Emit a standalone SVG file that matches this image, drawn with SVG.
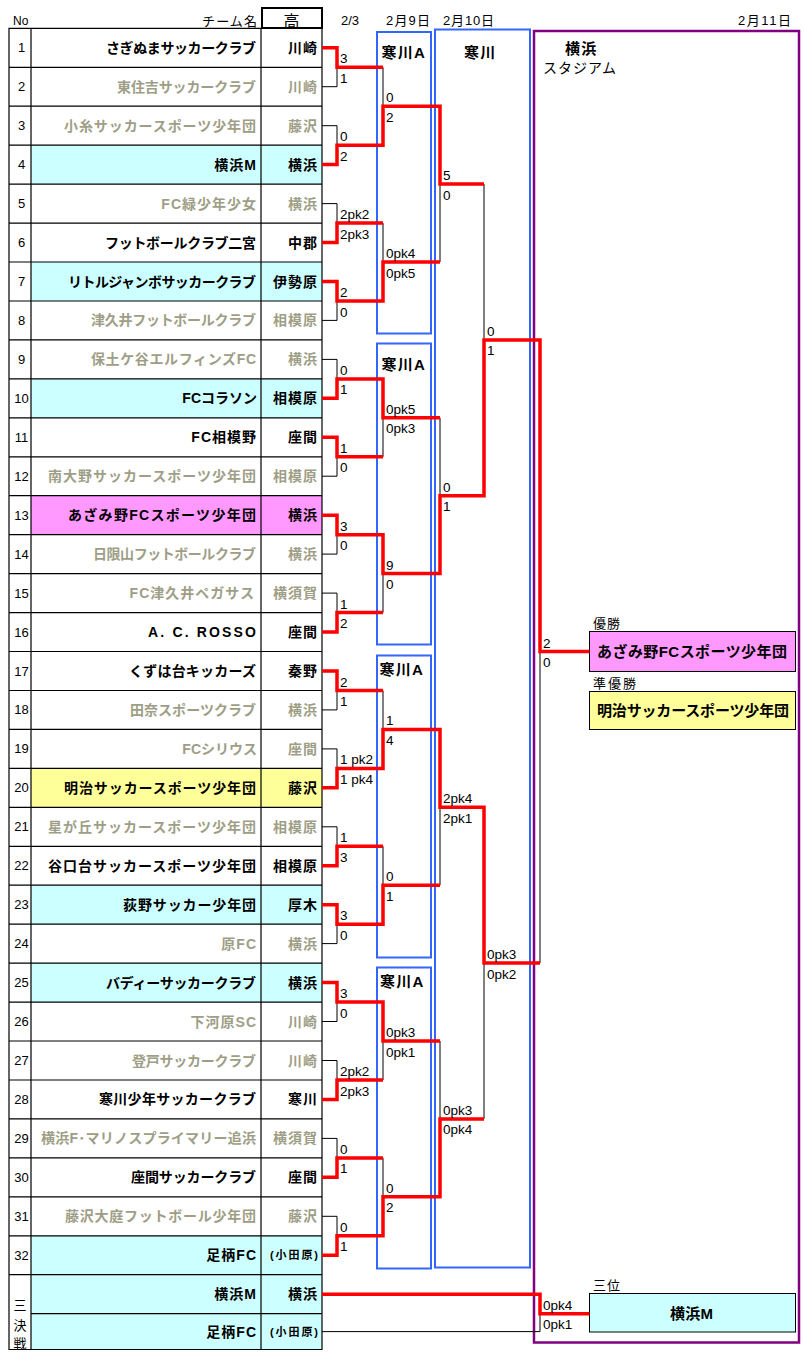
<svg xmlns="http://www.w3.org/2000/svg" width="804" height="1355" viewBox="0 0 804 1355">
<style>
text{font-family:"Liberation Sans","Noto Sans CJK JP",sans-serif;fill:#000}
.no{font-size:13px;text-anchor:middle}
.nm{font-size:14px;font-weight:bold;text-anchor:end}
.ls{letter-spacing:1px}
.rg{font-size:14px;font-weight:bold;text-anchor:end;letter-spacing:1px}
.rs{font-size:11px;font-weight:bold;text-anchor:end}
.g{fill:#9E9E86}
.sc{font-size:13.5px}
.hd{font-size:13px}
.vb{font-size:15px;font-weight:bold;letter-spacing:1.2px}
.bx{font-size:15px;font-weight:bold}
.grid{stroke:#000;stroke-width:1.2;fill:none}
.bk{stroke:#000;stroke-width:1;fill:none}
.rd{stroke:#FF0000;stroke-width:3.5;fill:none;stroke-linejoin:miter}
.blue{stroke:#3366FF;stroke-width:2;fill:none}
.purple{stroke:#800080;stroke-width:2.5;fill:none}
.cy{fill:#CCFFFF}
</style>
<rect width="804" height="1355" fill="#fff"/>

<g id="header">
<text x="13" y="25" style="font-size:12px">No</text>
<text x="202" y="26" class="hd" textLength="55" lengthAdjust="spacing">チーム名</text>
<rect x="262" y="8" width="60" height="20" fill="none" stroke="#000" stroke-width="2"/>
<text x="291.5" y="26.5" style="font-size:16px;text-anchor:middle">高</text>
<text x="341" y="25" class="hd">2/3</text>
<text x="386" y="25" class="hd" textLength="44" lengthAdjust="spacing">2月9日</text>
<text x="443" y="25" class="hd" textLength="51" lengthAdjust="spacing">2月10日</text>
<text x="738" y="25" class="hd" textLength="53" lengthAdjust="spacing">2月11日</text>
</g>

<g id="venues">
<g id="venue-samukawaA-1"><rect x="377" y="32" width="54" height="301.5" class="blue"/><text x="381.5" y="58.3" class="vb">寒川A</text></g>
<g id="venue-samukawaA-2"><rect x="377" y="343.5" width="54" height="301" class="blue"/><text x="381.5" y="370" class="vb">寒川A</text></g>
<g id="venue-samukawaA-3"><rect x="377" y="655.5" width="54" height="302" class="blue"/><text x="379.5" y="675" class="vb">寒川A</text></g>
<g id="venue-samukawaA-4"><rect x="377" y="967.5" width="54" height="301" class="blue"/><text x="380" y="986.7" class="vb">寒川A</text></g>
<g id="venue-samukawa"><rect x="435" y="29.5" width="95" height="1238" class="blue"/><text x="464" y="58.3" class="vb">寒川</text></g>
<g id="venue-yokohama"><rect x="534" y="31" width="265" height="1311.5" class="purple"/>
<text x="565" y="54" class="vb">横浜</text>
<text x="543" y="72.5" style="font-size:14px" textLength="73" lengthAdjust="spacing">スタジアム</text></g>
</g>

<g id="table">
<rect x="31" y="145.2" width="291" height="38.9" class="cy"/>
<rect x="31" y="262.0" width="291" height="39.0" class="cy"/>
<rect x="31" y="378.9" width="291" height="38.9" class="cy"/>
<rect x="31" y="495.7" width="291" height="39.0" fill="#FF99FF"/>
<rect x="31" y="768.4" width="291" height="38.9" fill="#FFFF99"/>
<rect x="31" y="885.2" width="291" height="39.0" class="cy"/>
<rect x="31" y="963.1" width="291" height="39.0" class="cy"/>
<rect x="31" y="1235.8" width="291" height="113.7" class="cy"/>
<path class="grid" d="M9 28.3H322V1349.5H9Z M31 28.3V1349.5 M261 28.3V1349.5
M9 67.3H322 M9 106.2H322 M9 145.2H322 M9 184.1H322 M9 223.1H322 M9 262.0H322 M9 301.0H322 M9 339.9H322
M9 378.9H322 M9 417.8H322 M9 456.8H322 M9 495.7H322 M9 534.7H322 M9 573.6H322 M9 612.6H322 M9 651.5H322
M9 690.5H322 M9 729.4H322 M9 768.4H322 M9 807.3H322 M9 846.3H322 M9 885.2H322 M9 924.2H322 M9 963.1H322
M9 1002.1H322 M9 1041.0H322 M9 1080.0H322 M9 1118.9H322 M9 1157.9H322 M9 1196.8H322 M9 1235.8H322 M9 1274.7H322
M31 1313.7H322"/>
</g>

<g id="teams">
<g id="team-1"><text x="21.5" y="52.3" class="no">1</text><text x="256" y="52.8" class="nm" textLength="150" lengthAdjust="spacing">さぎぬまサッカークラブ</text><text x="318" y="52.8" class="rg">川崎</text></g>
<g id="team-2"><text x="21.5" y="91.2" class="no">2</text><text x="256" y="91.7" class="nm g" textLength="139" lengthAdjust="spacing">東住吉サッカークラブ</text><text x="318" y="91.7" class="rg g">川崎</text></g>
<g id="team-3"><text x="21.5" y="130.2" class="no">3</text><text x="256" y="130.7" class="nm g" textLength="192" lengthAdjust="spacing">小糸サッカースポーツ少年団</text><text x="318" y="130.7" class="rg g">藤沢</text></g>
<g id="team-4"><text x="21.5" y="169.1" class="no">4</text><text x="257" y="169.6" class="nm ls">横浜M</text><text x="318" y="169.6" class="rg">横浜</text></g>
<g id="team-5"><text x="21.5" y="208.1" class="no">5</text><text x="257" y="208.6" class="nm g ls">FC緑少年少女</text><text x="318" y="208.6" class="rg g">横浜</text></g>
<g id="team-6"><text x="21.5" y="247.0" class="no">6</text><text x="256" y="247.5" class="nm" textLength="151" lengthAdjust="spacing">フットボールクラブ二宮</text><text x="318" y="247.5" class="rg">中郡</text></g>
<g id="team-7"><text x="21.5" y="286.0" class="no">7</text><text x="256" y="286.5" class="nm" textLength="188" lengthAdjust="spacing">リトルジャンボサッカークラブ</text><text x="318" y="286.5" class="rg">伊勢原</text></g>
<g id="team-8"><text x="21.5" y="324.9" class="no">8</text><text x="256" y="325.4" class="nm g" textLength="165" lengthAdjust="spacing">津久井フットボールクラブ</text><text x="318" y="325.4" class="rg g">相模原</text></g>
<g id="team-9"><text x="21.5" y="363.9" class="no">9</text><text x="256" y="364.4" class="nm g" textLength="165" lengthAdjust="spacing">保土ケ谷エルフィンズFC</text><text x="318" y="364.4" class="rg g">横浜</text></g>
<g id="team-10"><text x="21.5" y="402.8" class="no">10</text><text x="257" y="403.3" class="nm">FCコラソン</text><text x="318" y="403.3" class="rg">相模原</text></g>
<g id="team-11"><text x="21.5" y="441.8" class="no">11</text><text x="257" y="442.3" class="nm ls">FC相模野</text><text x="318" y="442.3" class="rg">座間</text></g>
<g id="team-12"><text x="21.5" y="480.7" class="no">12</text><text x="256" y="481.2" class="nm g" textLength="208" lengthAdjust="spacing">南大野サッカースポーツ少年団</text><text x="318" y="481.2" class="rg g">相模原</text></g>
<g id="team-13"><text x="21.5" y="519.7" class="no">13</text><text x="256" y="520.2" class="nm" textLength="188" lengthAdjust="spacing">あざみ野FCスポーツ少年団</text><text x="318" y="520.2" class="rg">横浜</text></g>
<g id="team-14"><text x="21.5" y="558.6" class="no">14</text><text x="256" y="559.1" class="nm g" textLength="163" lengthAdjust="spacing">日限山フットボールクラブ</text><text x="318" y="559.1" class="rg g">横浜</text></g>
<g id="team-15"><text x="21.5" y="597.6" class="no">15</text><text x="255" y="598.1" class="nm g ls">FC津久井ペガサス</text><text x="318" y="598.1" class="rg g">横須賀</text></g>
<g id="team-16"><text x="21.5" y="636.5" class="no">16</text><text x="256" y="637.0" class="nm" textLength="108" lengthAdjust="spacing">A. C. ROSSO</text><text x="318" y="637.0" class="rg">座間</text></g>
<g id="team-17"><text x="21.5" y="675.5" class="no">17</text><text x="256" y="676.0" class="nm" textLength="127" lengthAdjust="spacing">くずは台キッカーズ</text><text x="318" y="676.0" class="rg">秦野</text></g>
<g id="team-18"><text x="21.5" y="714.4" class="no">18</text><text x="256" y="714.9" class="nm g" textLength="126" lengthAdjust="spacing">田奈スポーツクラブ</text><text x="318" y="714.9" class="rg g">横浜</text></g>
<g id="team-19"><text x="21.5" y="753.4" class="no">19</text><text x="257" y="753.9" class="nm g">FCシリウス</text><text x="318" y="753.9" class="rg g">座間</text></g>
<g id="team-20"><text x="21.5" y="792.3" class="no">20</text><text x="256" y="792.8" class="nm" textLength="192" lengthAdjust="spacing">明治サッカースポーツ少年団</text><text x="318" y="792.8" class="rg">藤沢</text></g>
<g id="team-21"><text x="21.5" y="831.3" class="no">21</text><text x="256" y="831.8" class="nm g" textLength="208" lengthAdjust="spacing">星が丘サッカースポーツ少年団</text><text x="318" y="831.8" class="rg g">相模原</text></g>
<g id="team-22"><text x="21.5" y="870.2" class="no">22</text><text x="256" y="870.7" class="nm" textLength="208" lengthAdjust="spacing">谷口台サッカースポーツ少年団</text><text x="318" y="870.7" class="rg">相模原</text></g>
<g id="team-23"><text x="21.5" y="909.2" class="no">23</text><text x="256" y="909.7" class="nm" textLength="133" lengthAdjust="spacing">荻野サッカー少年団</text><text x="318" y="909.7" class="rg">厚木</text></g>
<g id="team-24"><text x="21.5" y="948.1" class="no">24</text><text x="257" y="948.6" class="nm g ls">原FC</text><text x="318" y="948.6" class="rg g">横浜</text></g>
<g id="team-25"><text x="21.5" y="987.1" class="no">25</text><text x="256" y="987.6" class="nm" textLength="150" lengthAdjust="spacing">バディーサッカークラブ</text><text x="318" y="987.6" class="rg">横浜</text></g>
<g id="team-26"><text x="21.5" y="1026.0" class="no">26</text><text x="257" y="1026.5" class="nm g ls">下河原SC</text><text x="318" y="1026.5" class="rg g">川崎</text></g>
<g id="team-27"><text x="21.5" y="1065.0" class="no">27</text><text x="256" y="1065.5" class="nm g" textLength="124" lengthAdjust="spacing">登戸サッカークラブ</text><text x="318" y="1065.5" class="rg g">川崎</text></g>
<g id="team-28"><text x="21.5" y="1103.9" class="no">28</text><text x="256" y="1104.4" class="nm" textLength="157" lengthAdjust="spacing">寒川少年サッカークラブ</text><text x="318" y="1104.4" class="rg">寒川</text></g>
<g id="team-29"><text x="21.5" y="1142.9" class="no">29</text><text x="256" y="1143.4" class="nm g" textLength="215" lengthAdjust="spacing">横浜F･マリノスプライマリー追浜</text><text x="318" y="1143.4" class="rg g">横須賀</text></g>
<g id="team-30"><text x="21.5" y="1181.8" class="no">30</text><text x="256" y="1182.3" class="nm" textLength="125" lengthAdjust="spacing">座間サッカークラブ</text><text x="318" y="1182.3" class="rg">座間</text></g>
<g id="team-31"><text x="21.5" y="1220.8" class="no">31</text><text x="256" y="1221.3" class="nm g" textLength="191" lengthAdjust="spacing">藤沢大庭フットボール少年団</text><text x="318" y="1221.3" class="rg g">藤沢</text></g>
<g id="team-32"><text x="21.5" y="1259.7" class="no">32</text><text x="257" y="1260.2" class="nm ls">足柄FC</text><text x="318" y="1259.2" class="rs" textLength="48" lengthAdjust="spacing">(小田原)</text></g>
<g id="third-label"><text x="20" y="1310" class="no">三</text><text x="20" y="1329.5" class="no">決</text><text x="20" y="1348" class="no">戦</text></g>
<g id="team-33"><text x="257" y="1299.2" class="nm ls">横浜M</text><text x="318" y="1299.2" class="rg">横浜</text></g>
<g id="team-34"><text x="257" y="1336.6" class="nm ls">足柄FC</text><text x="318" y="1335.6" class="rs" textLength="48" lengthAdjust="spacing">(小田原)</text></g>
</g>

<g id="results">
<g id="champion"><text x="593" y="628" class="hd" textLength="27" lengthAdjust="spacing">優勝</text><rect x="589.5" y="631.5" width="206" height="40" fill="#FF99FF" stroke="#000" stroke-width="1"/><text x="597" y="657" class="bx" textLength="190" lengthAdjust="spacing">あざみ野FCスポーツ少年団</text></g>
<g id="runner-up"><text x="593" y="688" class="hd" textLength="43" lengthAdjust="spacing">準優勝</text><rect x="589.5" y="691.5" width="206" height="38" fill="#FFFF99" stroke="#000" stroke-width="1"/><text x="597" y="716" class="bx" textLength="192" lengthAdjust="spacing">明治サッカースポーツ少年団</text></g>
<g id="third"><text x="593" y="1290" class="hd" textLength="27" lengthAdjust="spacing">三位</text><rect x="589.5" y="1293.5" width="206" height="38.5" fill="#CCFFFF" stroke="#000" stroke-width="1"/><text x="670" y="1318.5" class="bx" textLength="43" lengthAdjust="spacing">横浜M</text></g>
</g>

<g id="connectors">
<path class="bk" d="M322 86.7H337V67.3 M322 125.7H337V145.2 M322 203.6H337V223.1 M322 320.4H337V301.0
M322 359.4H337V378.9 M322 476.2H337V456.8 M322 554.1H337V534.7 M322 593.1H337V612.6
M322 709.9H337V690.5 M322 748.9H337V768.4 M322 826.8H337V846.3 M322 943.6H337V924.2
M322 1021.5H337V1002.1 M322 1060.5H337V1080.0 M322 1138.4H337V1157.9 M322 1216.3H337V1235.8
M383 67.3V106.2 M383 223.1V262.0 M383 456.8V417.8 M383 612.6V573.6 M383 690.5V729.4 M383 846.3V885.2 M383 1080.0V1041.0 M383 1157.9V1196.8
M440 262.0V184.1 M440 417.8V495.7 M440 885.2V807.3 M440 1041.0V1118.9
M484 184.1V339.9 M484 1118.9V963.1 M540 963.1V651.5
M322 1331.6H540V1313.7"/>
<path class="rd" d="M322 47.8H337V67.3H383"/>
<path class="rd" d="M322 164.6H337V145.2H383V106.2H440V184.1H484"/>
<path class="rd" d="M322 242.5H337V223.1H383"/>
<path class="rd" d="M322 281.5H337V301.0H383V262.0H440"/>
<path class="rd" d="M322 398.3H337V378.9H383V417.8H440"/>
<path class="rd" d="M322 437.3H337V456.8H383"/>
<path class="rd" d="M322 515.2H337V534.7H383V573.6H440V495.7H484V339.9H540V651.5H589.5"/>
<path class="rd" d="M322 632.0H337V612.6H383"/>
<path class="rd" d="M322 671.0H337V690.5H383"/>
<path class="rd" d="M322 787.8H337V768.4H383V729.4H440V807.3H484V963.1H540"/>
<path class="rd" d="M322 865.7H337V846.3H383"/>
<path class="rd" d="M322 904.7H337V924.2H383V885.2H440"/>
<path class="rd" d="M322 982.6H337V1002.1H383V1041.0H440"/>
<path class="rd" d="M322 1099.4H337V1080.0H383"/>
<path class="rd" d="M322 1177.3H337V1157.9H383"/>
<path class="rd" d="M322 1255.2H337V1235.8H383V1196.8H440V1118.9H484"/>
<path class="rd" d="M322 1294.2H540V1313.7H589.5"/>
</g>

<g id="scores">
<text x="340" y="63.3" class="sc">3</text><text x="340" y="82.8" class="sc">1</text>
<text x="340" y="141.2" class="sc">0</text><text x="340" y="160.7" class="sc">2</text>
<text x="340" y="219.1" class="sc">2pk2</text><text x="340" y="238.6" class="sc">2pk3</text>
<text x="340" y="297.0" class="sc">2</text><text x="340" y="316.5" class="sc">0</text>
<text x="340" y="374.9" class="sc">0</text><text x="340" y="394.4" class="sc">1</text>
<text x="340" y="452.8" class="sc">1</text><text x="340" y="472.3" class="sc">0</text>
<text x="340" y="530.7" class="sc">3</text><text x="340" y="550.2" class="sc">0</text>
<text x="340" y="608.6" class="sc">1</text><text x="340" y="628.1" class="sc">2</text>
<text x="340" y="686.5" class="sc">2</text><text x="340" y="706.0" class="sc">1</text>
<text x="340" y="764.4" class="sc">1 pk2</text><text x="340" y="783.9" class="sc">1 pk4</text>
<text x="340" y="842.3" class="sc">1</text><text x="340" y="861.8" class="sc">3</text>
<text x="340" y="920.2" class="sc">3</text><text x="340" y="939.7" class="sc">0</text>
<text x="340" y="998.1" class="sc">3</text><text x="340" y="1017.6" class="sc">0</text>
<text x="340" y="1076.0" class="sc">2pk2</text><text x="340" y="1095.5" class="sc">2pk3</text>
<text x="340" y="1153.9" class="sc">0</text><text x="340" y="1173.4" class="sc">1</text>
<text x="340" y="1231.8" class="sc">0</text><text x="340" y="1251.3" class="sc">1</text>

<text x="386" y="102.2" class="sc">0</text><text x="386" y="121.7" class="sc">2</text>
<text x="386" y="258.0" class="sc">0pk4</text><text x="386" y="277.5" class="sc">0pk5</text>
<text x="386" y="413.8" class="sc">0pk5</text><text x="386" y="433.3" class="sc">0pk3</text>
<text x="386" y="569.6" class="sc">9</text><text x="386" y="589.1" class="sc">0</text>
<text x="386" y="725.4" class="sc">1</text><text x="386" y="744.9" class="sc">4</text>
<text x="386" y="881.2" class="sc">0</text><text x="386" y="900.7" class="sc">1</text>
<text x="386" y="1037.0" class="sc">0pk3</text><text x="386" y="1056.5" class="sc">0pk1</text>
<text x="386" y="1192.8" class="sc">0</text><text x="386" y="1212.3" class="sc">2</text>

<text x="443" y="180.1" class="sc">5</text><text x="443" y="199.6" class="sc">0</text>
<text x="443" y="491.7" class="sc">0</text><text x="443" y="511.2" class="sc">1</text>
<text x="443" y="803.3" class="sc">2pk4</text><text x="443" y="822.8" class="sc">2pk1</text>
<text x="443" y="1114.9" class="sc">0pk3</text><text x="443" y="1134.4" class="sc">0pk4</text>

<text x="487" y="335.9" class="sc">0</text><text x="487" y="355.4" class="sc">1</text>
<text x="487" y="959.1" class="sc">0pk3</text><text x="487" y="978.6" class="sc">0pk2</text>

<text x="543" y="647.5" class="sc">2</text><text x="543" y="667.0" class="sc">0</text>
<text x="543" y="1309.7" class="sc">0pk4</text><text x="543" y="1329.2" class="sc">0pk1</text>
</g>
</svg>
